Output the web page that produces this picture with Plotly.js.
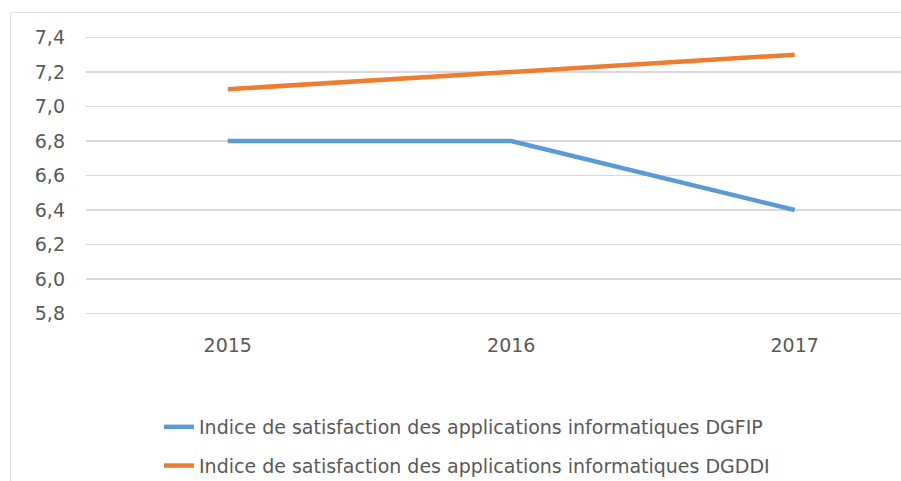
<!DOCTYPE html>
<html><head><meta charset="utf-8">
<script src="https://cdn.plot.ly/plotly-3.0.1.min.js"></script>
<style>
html,body{margin:0;padding:0;background:#fff;}
#wrap{position:relative;width:901px;height:481px;overflow:hidden;}
#frame{position:absolute;left:10px;top:12px;width:900px;height:480px;border:1px solid #e3e3e3;box-sizing:border-box;}
#chart{position:absolute;left:0;top:0;width:901px;height:481px;}
</style></head>
<body><div id="wrap"><div id="frame"></div><div id="chart"></div></div>
<script>
const years = ["2015", "2016", "2017"];
const dgfip = [6.8, 6.8, 6.4];
const dgddi = [7.1, 7.2, 7.3];
const nameDgfip = "Indice de satisfaction des applications informatiques DGFIP";
const nameDgddi = "Indice de satisfaction des applications informatiques DGDDI";
const yTicks = [5.8, 6.0, 6.2, 6.4, 6.6, 6.8, 7.0, 7.2, 7.4];

const fontFam = "DejaVu Sans, sans-serif";
const txt = "#595959";
const traces = [
  {x: years, y: dgfip, name: nameDgfip, type: "scatter", mode: "lines",
   line: {color: "#5B9BD5", width: 4.5}, legendgroup: "a"},
  {x: years, y: dgddi, name: nameDgddi, type: "scatter", mode: "lines",
   line: {color: "#ED7D31", width: 4.5}, legendgroup: "b"}
];
const layout = {
  width: 901, height: 481,
  paper_bgcolor: "rgba(0,0,0,0)", plot_bgcolor: "rgba(0,0,0,0)",
  separators: ", ",
  margin: {l: 86, r: 0, t: 34, b: 164, autoexpand: false},
  font: {family: fontFam, color: txt, size: 19},
  xaxis: {type: "category", range: [-0.5, 2.375], showgrid: false, zeroline: false,
          showline: false, ticks: "", tickfont: {size: 19, color: txt}, ticklabelstandoff: 15, fixedrange: true},
  yaxis: {range: [5.78, 7.42], tickvals: yTicks, tickformat: ".1f", showgrid: true,
          gridcolor: "#d9d9d9", gridwidth: 1.5, zeroline: false, showline: false, ticks: "",
          tickfont: {size: 19, color: txt}, ticklabelstandoff: 20, fixedrange: true},
  showlegend: true,
  legend: {orientation: "v", xref: "container", yref: "container", x: 159/901, y: 1 - 408/481,
           xanchor: "left", yanchor: "top", tracegroupgap: 11, bgcolor: "rgba(0,0,0,0)",
           font: {size: 19, color: txt}, itemwidth: 30, traceorder: "grouped"}
};
Plotly.newPlot("chart", traces, layout, {displayModeBar: false, staticPlot: true});
</script></body></html>
